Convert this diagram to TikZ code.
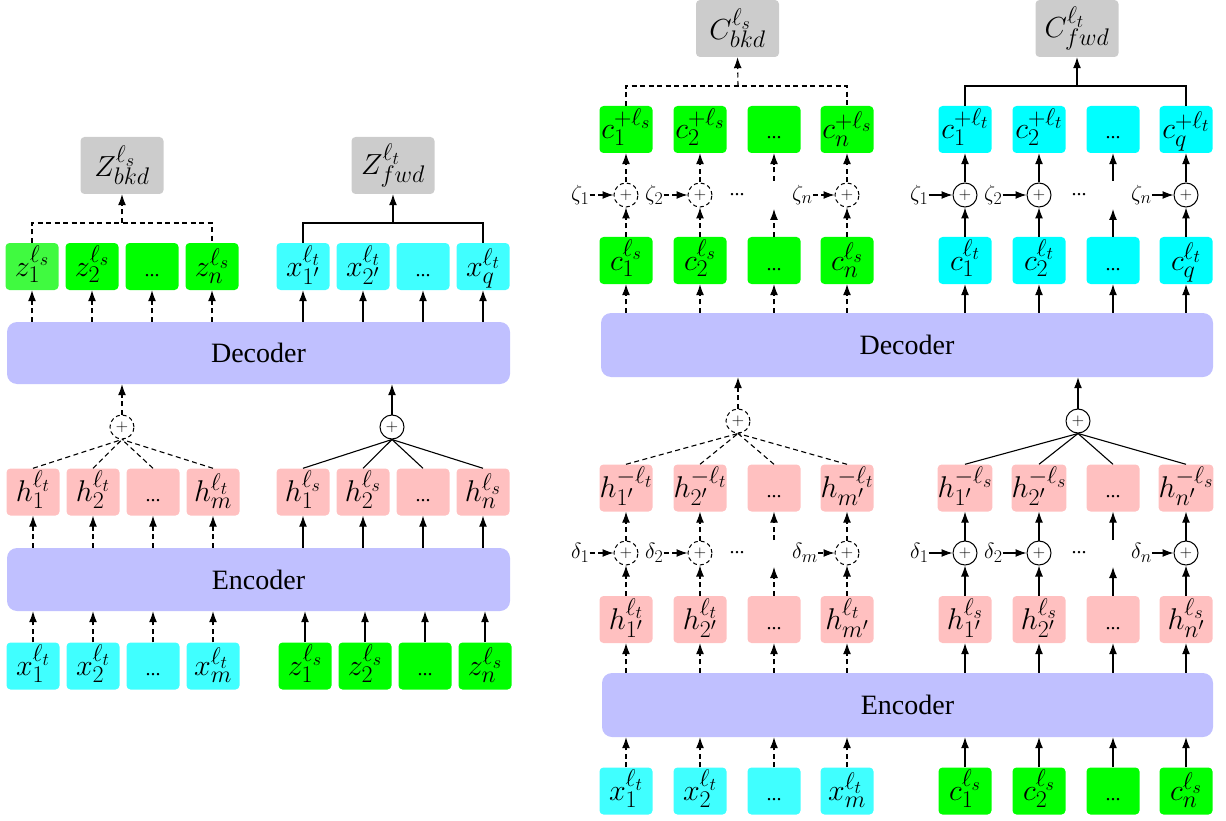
\RequirePackage{fix-cm}
\documentclass[tikz,border=0pt]{standalone}
\usepackage[no-math]{fontspec}
\setmainfont{Liberation Serif}
\usetikzlibrary{arrows.meta}
\DeclareMathSizes{30}{30}{24}{18}
\DeclareMathSizes{29}{29}{24}{18}
\DeclareMathSizes{22}{22}{18}{14}
\definecolor{grn}{RGB}{0,255,0}
\definecolor{grnl}{RGB}{64,250,64}
\definecolor{cyn}{RGB}{0,255,255}
\definecolor{cynl}{RGB}{64,255,255}
\definecolor{pnk}{RGB}{255,192,192}
\definecolor{lav}{RGB}{192,192,255}
\definecolor{gry}{RGB}{204,204,204}
\newcommand{\mydots}{{\fontsize{20}{24}\selectfont ...}}
\tikzset{
  blk/.style={rounded corners=4pt, minimum width=53pt, minimum height=47pt, inner sep=0pt, text height=33pt, text depth=14pt, font=\fontsize{30}{36}\selectfont},
  gbox/.style={rounded corners=4pt, fill=gry, minimum width=83pt, minimum height=57pt, inner sep=0pt, font=\fontsize{29}{34}\selectfont},
  big/.style={rounded corners=10pt, fill=lav, inner sep=0pt, font=\fontsize{28}{34}\selectfont},
  pl/.style={circle, draw, line width=1pt, minimum size=24pt, inner sep=0pt, font=\fontsize{17}{20}\selectfont},
  dpl/.style={pl, dash pattern=on 4pt off 3pt},
  lbl/.style={anchor=west, inner sep=0pt, font=\fontsize{22}{26}\selectfont},
  arr/.style={-{Latex[length=11pt,width=8pt]}, line width=1.1pt},
  ln/.style={line width=1.1pt},
  dsh/.style={dash pattern=on 5pt off 3.5pt},
}
\begin{document}
\begin{tikzpicture}[x=1pt,y=-1pt]
\useasboundingbox (0,0) rectangle (1226,821);
% ================= LEFT PANEL =================
\node[big, minimum width=503pt, minimum height=62pt] (Ldec) at (258.5,353) {Decoder};
\node[big, minimum width=503pt, minimum height=63pt] (Lenc) at (258.5,579.5) {Encoder};
\node[gbox] (Zb) at (122,165.5) {$Z^{\ell_s}_{bkd}$};
\node[gbox] (Zf) at (393,165.5) {$Z^{\ell_t}_{fwd}$};
\node[dpl] (Lpa) at (122,427) {$+$};
\node[pl] (Lpb) at (392,427) {$+$};
\foreach \i/\x/\txt/\col in {1/32/{$z_1^{\ell_s}$}/grnl,2/92/{$z_2^{\ell_s}$}/grn,3/152/{\mydots}/grn,4/212/{$z_n^{\ell_s}$}/grn}
  \node[blk,fill=\col] (Lz\i) at (\x,266.5) {\txt};
\foreach \i/\x/\txt in {1/303/{$x_{1'}^{\ell_t}$},2/363/{$x_{2'}^{\ell_t}$},3/423/{\mydots},4/483/{$x_q^{\ell_t}$}}
  \node[blk,fill=cynl] (Lx\i) at (\x,266.5) {\txt};
\foreach \i/\x/\txt in {1/33/{$h_1^{\ell_t}$},2/93/{$h_2^{\ell_t}$},3/153/{\mydots},4/213/{$h_m^{\ell_t}$}}
  \node[blk,fill=pnk] (Lh\i) at (\x,492) {\txt};
\foreach \i/\x/\txt in {1/303/{$h_1^{\ell_s}$},2/363/{$h_2^{\ell_s}$},3/423/{\mydots},4/483/{$h_n^{\ell_s}$}}
  \node[blk,fill=pnk] (Lk\i) at (\x,492) {\txt};
\foreach \i/\x/\txt in {1/33/{$x_1^{\ell_t}$},2/93/{$x_2^{\ell_t}$},3/153/{\mydots},4/213/{$x_m^{\ell_t}$}}
  \node[blk,fill=cynl] (Lxb\i) at (\x,666) {\txt};
\foreach \i/\x/\txt in {1/305/{$z_1^{\ell_s}$},2/365/{$z_2^{\ell_s}$},3/425/{\mydots},4/485/{$z_n^{\ell_s}$}}
  \node[blk,fill=grn] (Lzb\i) at (\x,666) {\txt};
\foreach \i in {1,...,4}{
  \draw[arr,dsh] (Lz\i.south |- Ldec.north) -- (Lz\i.south);
  \draw[arr] (Lx\i.south |- Ldec.north) -- (Lx\i.south);
  \draw[ln,dsh] (Lh\i.north) -- (Lpa.south);
  \draw[ln] (Lk\i.north) -- (Lpb.south);
  \draw[arr,dsh] (Lh\i.south |- Lenc.north) -- (Lh\i.south);
  \draw[arr] (Lk\i.south |- Lenc.north) -- (Lk\i.south);
  \draw[arr,dsh] (Lxb\i.north) -- (Lxb\i.north |- Lenc.south);
  \draw[arr] (Lzb\i.north) -- (Lzb\i.north |- Lenc.south);
}
\draw[arr,dsh] (Lpa.north) -- (Lpa.north |- Ldec.south);
\draw[arr] (Lpb.north) -- (Lpb.north |- Ldec.south);
\coordinate (Lj1) at (122,223);
\coordinate (Lj2) at (393,223);
\draw[ln,dsh] (Lz1.north) |- (Lj1) -| (Lz4.north);
\draw[arr,dsh] (Lj1) -- (Zb.south);
\draw[ln] (Lx1.north) |- (Lj2) -| (Lx4.north);
\draw[arr] (Lj2) -- (Zf.south);
% ================= RIGHT PANEL =================
\node[big, minimum width=612pt, minimum height=64pt] (Rdec) at (907,345) {Decoder};
\node[big, minimum width=611pt, minimum height=64pt] (Renc) at (907.5,705) {Encoder};
\node[gbox] (Cb) at (737.5,28.5) {$C^{\ell_s}_{bkd}$};
\node[gbox] (Cf) at (1077,28.5) {$C^{\ell_t}_{fwd}$};
\node[dpl] (Rpa) at (738,421) {$+$};
\node[pl] (Spa) at (1078,421) {$+$};
% rows, left half
\foreach \i/\x/\txt in {1/626/{$c_1^{+\ell_s}$},2/700/{$c_2^{+\ell_s}$},3/774/{\mydots},4/847/{$c_n^{+\ell_s}$}}
  \node[blk,fill=grn] (Ra\i) at (\x,129.5) {\txt};
\foreach \i/\x/\txt in {1/626/{$c_1^{\ell_s}$},2/700/{$c_2^{\ell_s}$},3/774/{\mydots},4/847/{$c_n^{\ell_s}$}}
  \node[blk,fill=grn] (Rb\i) at (\x,260.5) {\txt};
\foreach \i/\x/\txt in {1/626/{$h_{1'}^{-\ell_t}$},2/700/{$h_{2'}^{-\ell_t}$},3/774/{\mydots},4/847/{$h_{m'}^{-\ell_t}$}}
  \node[blk,fill=pnk] (Rc\i) at (\x,488) {\txt};
\foreach \i/\x/\txt in {1/626/{$h_{1'}^{\ell_t}$},2/700/{$h_{2'}^{\ell_t}$},3/774/{\mydots},4/847/{$h_{m'}^{\ell_t}$}}
  \node[blk,fill=pnk] (Rd\i) at (\x,619.5) {\txt};
\foreach \i/\x/\txt in {1/626/{$x_1^{\ell_t}$},2/700/{$x_2^{\ell_t}$},3/774/{\mydots},4/847/{$x_m^{\ell_t}$}}
  \node[blk,fill=cynl] (Re\i) at (\x,791) {\txt};
% rows, right half
\foreach \i/\x/\txt in {1/965/{$c_1^{+\ell_t}$},2/1039/{$c_2^{+\ell_t}$},3/1113/{\mydots},4/1186/{$c_q^{+\ell_t}$}}
  \node[blk,fill=cyn] (Sa\i) at (\x,129.5) {\txt};
\foreach \i/\x/\txt in {1/965/{$c_1^{\ell_t}$},2/1039/{$c_2^{\ell_t}$},3/1113/{\mydots},4/1186/{$c_q^{\ell_t}$}}
  \node[blk,fill=cyn] (Sb\i) at (\x,260.5) {\txt};
\foreach \i/\x/\txt in {1/965/{$h_{1'}^{-\ell_s}$},2/1039/{$h_{2'}^{-\ell_s}$},3/1113/{\mydots},4/1186/{$h_{n'}^{-\ell_s}$}}
  \node[blk,fill=pnk] (Sc\i) at (\x,488) {\txt};
\foreach \i/\x/\txt in {1/965/{$h_{1'}^{\ell_s}$},2/1039/{$h_{2'}^{\ell_s}$},3/1113/{\mydots},4/1186/{$h_{n'}^{\ell_s}$}}
  \node[blk,fill=pnk] (Sd\i) at (\x,619.5) {\txt};
\foreach \i/\x/\txt in {1/965/{$c_1^{\ell_s}$},2/1039/{$c_2^{\ell_s}$},3/1113/{\mydots},4/1186/{$c_n^{\ell_s}$}}
  \node[blk,fill=grn] (Se\i) at (\x,791) {\txt};
% zeta / delta plus rows
\foreach \i/\x/\zl/\dl in {1/626/{$\zeta_1$}/{$\delta_1$},2/700/{$\zeta_2$}/{$\delta_2$},4/847/{$\zeta_n$}/{$\delta_m$}}{
  \node[dpl] (Rz\i) at (\x,195) {$+$};
  \node[lbl] (Rzl\i) at (\x-55,195) {\zl};
  \node[dpl] (Rp\i) at (\x,553) {$+$};
  \node[lbl] (Rpl\i) at (\x-55,553) {\dl};
  \draw[arr,dsh] (Rb\i.north) -- (Rz\i.south);
  \draw[arr,dsh] (Rz\i.north) -- (Ra\i.south);
  \draw[arr,dsh] (Rzl\i.east) -- (Rz\i.west);
  \draw[arr,dsh] (Rd\i.north) -- (Rp\i.south);
  \draw[arr,dsh] (Rp\i.north) -- (Rc\i.south);
  \draw[arr,dsh] (Rpl\i.east) -- (Rp\i.west);
}
\foreach \i/\x/\zl/\dl in {1/965/{$\zeta_1$}/{$\delta_1$},2/1039/{$\zeta_2$}/{$\delta_2$},4/1186/{$\zeta_n$}/{$\delta_n$}}{
  \node[pl] (Sz\i) at (\x,195) {$+$};
  \node[lbl] (Szl\i) at (\x-55,195) {\zl};
  \node[pl] (Sp\i) at (\x,553) {$+$};
  \node[lbl] (Spl\i) at (\x-55,553) {\dl};
  \draw[arr] (Sb\i.north) -- (Sz\i.south);
  \draw[arr] (Sz\i.north) -- (Sa\i.south);
  \draw[arr] (Szl\i.east) -- (Sz\i.west);
  \draw[arr] (Sd\i.north) -- (Sp\i.south);
  \draw[arr] (Sp\i.north) -- (Sc\i.south);
  \draw[arr] (Spl\i.east) -- (Sp\i.west);
}
\node[inner sep=0pt] (Rzd) at (737,195) {\mydots};
\node[inner sep=0pt] (Szd) at (1079,195) {\mydots};
\node[inner sep=0pt] (Rpd) at (737,553) {\mydots};
\node[inner sep=0pt] (Spd) at (1079,553) {\mydots};
% split arrows in the dots column
\coordinate (Rzu) at (774,181); \coordinate (Rzw) at (774,209);
\coordinate (Szu) at (1113,181); \coordinate (Szw) at (1113,209);
\coordinate (Rpu) at (774,540); \coordinate (Rpw) at (774,567);
\coordinate (Spu) at (1113,540); \coordinate (Spw) at (1113,567);
\draw[arr,dsh] (Rzu) -- (Ra3.south);
\draw[arr,dsh] (Rb3.north) -- (Rzw);
\draw[arr] (Szu) -- (Sa3.south);
\draw[arr] (Sb3.north) -- (Szw);
\draw[arr,dsh] (Rpu) -- (Rc3.south);
\draw[arr,dsh] (Rd3.north) -- (Rpw);
\draw[arr] (Spu) -- (Sc3.south);
\draw[arr] (Sd3.north) -- (Spw);
% column connectors
\foreach \i in {1,...,4}{
  \draw[arr,dsh] (Rb\i.south |- Rdec.north) -- (Rb\i.south);
  \draw[arr] (Sb\i.south |- Rdec.north) -- (Sb\i.south);
  \draw[ln,dsh] (Rc\i.north) -- (Rpa.south);
  \draw[ln] (Sc\i.north) -- (Spa.south);
  \draw[arr,dsh] (Rd\i.south |- Renc.north) -- (Rd\i.south);
  \draw[arr] (Sd\i.south |- Renc.north) -- (Sd\i.south);
  \draw[arr,dsh] (Re\i.north) -- (Re\i.north |- Renc.south);
  \draw[arr] (Se\i.north) -- (Se\i.north |- Renc.south);
}
\draw[arr,dsh] (Rpa.north) -- (Rpa.north |- Rdec.south);
\draw[arr] (Spa.north) -- (Spa.north |- Rdec.south);
\coordinate (Rj1) at (738,86);
\coordinate (Rj2) at (1077,86);
\draw[ln,dsh] (Ra1.north) |- (Rj1) -| (Ra4.north);
\draw[arr,dsh] (Rj1) -- (Cb.south);
\draw[ln] (Sa1.north) |- (Rj2) -| (Sa4.north);
\draw[arr] (Rj2) -- (Cf.south);
\end{tikzpicture}
\end{document}
